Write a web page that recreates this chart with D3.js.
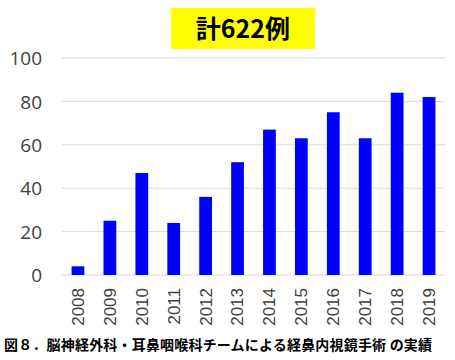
<!DOCTYPE html>
<html><head><meta charset="utf-8">
<script src="https://cdn.jsdelivr.net/npm/d3@7"></script>
<style>body{margin:0;background:#fff}svg{display:block}</style>
</head><body>
<script>
const years = ["2008","2009","2010","2011","2012","2013","2014","2015","2016","2017","2018","2019"];
const cases = [4,25,47,24,36,52,67,63,75,63,84,82];
const yTicks = [0,20,40,60,80,100];
const titleText = "計622例";
const captionText = "図８．脳神経外科・耳鼻咽喉科チームによる経鼻内視鏡手術 の実績";

const W = 455, H = 360;
const svg = d3.select("body").append("svg").attr("width", W).attr("height", H);

const x = d3.scaleBand().domain(years).range([62, 445]).paddingInner(0.6).paddingOuter(0.3);
const y = d3.scaleLinear().domain([0, 100]).range([275, 58]);

// gridlines
svg.append("g").selectAll("line").data(yTicks).join("line")
  .attr("x1", 62).attr("x2", 445)
  .attr("y1", d => y(d)).attr("y2", d => y(d))
  .attr("stroke", "#d9d9d9").attr("stroke-width", 1);

// y axis labels
const yAxis = d3.axisLeft(y).tickValues(yTicks).tickSize(0).tickPadding(0);
const gy = svg.append("g").attr("transform", "translate(42,0)").call(yAxis);
gy.select(".domain").remove();
gy.selectAll("text").attr("font-family", "'Open Sans','Noto Sans',sans-serif")
  .attr("font-size", 19).attr("fill", "#404040").attr("dy", "0.35em");

// bars
svg.append("g").selectAll("rect").data(cases).join("rect")
  .attr("x", (d, i) => x(years[i]))
  .attr("width", x.bandwidth())
  .attr("y", d => y(d))
  .attr("height", d => y(0) - y(d))
  .attr("fill", "#0000ff");

// x axis labels rotated
const xAxis = d3.axisBottom(x).tickSize(0).tickPadding(0);
const gx = svg.append("g").attr("transform", "translate(0,288)").call(xAxis);
gx.select(".domain").remove();
gx.selectAll("text")
  .attr("font-family", "'Liberation Sans',Arial,sans-serif")
  .attr("font-size", 17).attr("fill", "#404040")
  .attr("text-anchor", "end")
  .attr("transform", "rotate(-90)")
  .attr("x", 0).attr("y", 0).attr("dy", "0.35em");

// title box
svg.append("rect").attr("x", 171).attr("y", 8).attr("width", 144).attr("height", 41).attr("fill", "#ffff00");
svg.append("text").attr("x", 243).attr("y", 38).attr("text-anchor", "middle")
  .attr("font-family", "'Noto Sans CJK JP',sans-serif").attr("font-weight", "bold")
  .attr("font-size", 25).attr("fill", "#000").text(titleText);

// caption
svg.append("text").attr("x", 4).attr("y", 350)
  .attr("font-family", "'Noto Sans CJK JP',sans-serif").attr("font-weight", "bold")
  .attr("font-size", 14).attr("fill", "#000")
  .attr("textLength", 428).attr("lengthAdjust", "spacing")
  .text(captionText);
</script>
</body></html>
